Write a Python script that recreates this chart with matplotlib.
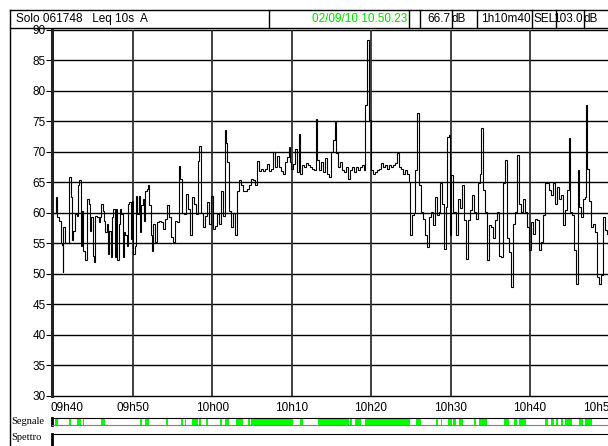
import matplotlib
matplotlib.use("Agg")
import matplotlib.pyplot as plt
from matplotlib.lines import Line2D
from matplotlib.transforms import ScaledTranslation

plt.rcParams['font.family'] = ['Liberation Sans', 'DejaVu Sans']

# Leq 10s A, minuti dopo le 09h40 (inizio di ogni gradino) e livello in dB
t_start = [
    0.02, 0.35, 0.52, 0.77, 0.94, 1.11, 1.19, 1.28, 1.53, 1.95,
    2.20, 2.37, 2.53, 2.79, 2.95, 3.12, 3.29, 3.46, 3.62, 3.79,
    3.96, 4.21, 4.46, 4.63, 4.80, 4.97, 5.13, 5.30, 5.47, 5.72,
    5.89, 6.06, 6.22, 6.39, 6.56, 6.73, 6.90, 7.06, 7.23, 7.40,
    7.57, 7.74, 7.90, 8.07, 8.24, 8.41, 8.57, 8.74, 8.91, 9.08,
    9.24, 9.41, 9.58, 9.75, 9.92, 10.08, 10.25, 10.42, 10.59, 10.76,
    10.92, 11.09, 11.26, 11.43, 11.59, 11.76, 11.93, 12.10, 12.27, 12.43,
    12.60, 12.85, 13.10, 13.36, 13.61, 13.86, 14.11, 14.36, 14.53, 14.78,
    15.03, 15.28, 15.54, 15.79, 15.96, 16.21, 16.46, 16.71, 16.96, 17.22,
    17.47, 17.72, 17.97, 18.22, 18.39, 18.64, 18.89, 19.14, 19.40, 19.65,
    19.90, 20.15, 20.40, 20.65, 20.91, 21.07, 21.32, 21.58, 21.74, 21.91,
    22.16, 22.42, 22.67, 22.92, 23.09, 23.34, 23.59, 23.93, 24.35, 24.60,
    24.85, 25.10, 25.35, 25.60, 25.86, 26.11, 26.44, 26.70, 26.95, 27.20,
    27.45, 27.70, 27.95, 28.20, 28.46, 28.62, 28.88, 29.13, 29.38, 29.63,
    29.80, 29.97, 30.22, 30.47, 30.64, 30.89,
    31.06, 31.31, 31.56, 31.81, 32.06, 32.32, 32.57, 32.82, 33.07, 33.24,
    33.49, 33.74, 33.99, 34.24, 34.41, 34.66, 34.92, 35.17, 35.42, 35.59,
    35.84, 36.09, 36.34, 36.59, 36.84, 37.10, 37.35, 37.60, 37.85, 38.10,
    38.35, 38.61, 38.86, 39.11, 39.28, 39.45, 39.70, 39.95, 40.20, 40.45,
    40.71, 40.96, 41.21, 41.46, 41.71, 41.96, 42.21, 42.47, 42.72, 42.97,
    43.22, 43.47, 43.73, 43.98, 44.23, 44.48, 44.73, 44.90, 45.15, 45.40,
    45.57, 45.74, 45.99, 46.24, 46.49, 46.75, 47.00, 47.25, 47.50, 47.75,
    48.00, 48.25, 48.50, 48.67, 48.92, 49.18, 49.43, 49.60, 49.76, 49.93,
    50.10, 50.27, 50.69, 50.94, 51.19, 51.44, 51.69, 51.95, 52.20, 52.45,
    52.70, 52.95, 53.20, 53.45, 53.71, 53.87, 54.13, 54.38, 54.63, 54.88,
    55.13, 55.38, 55.64, 55.89, 56.14, 56.39, 56.64, 56.89, 57.15, 57.40,
    57.65, 57.90, 58.15, 58.40, 58.66, 58.91, 59.16, 59.41, 59.66, 59.91,
    60.17, 60.42, 60.67, 60.92, 61.17, 61.43, 61.68, 61.93, 62.43, 62.68,
    62.94, 63.19, 63.44, 63.69, 63.94, 64.19, 64.45, 64.70, 64.87, 65.03,
    65.28, 65.54, 65.79, 66.04, 66.21, 66.38, 66.63, 66.88, 67.05, 67.21,
    67.47, 67.72, 67.97, 68.22, 68.39, 68.64, 68.89, 69.14, 69.39, 69.65,
]
t_end = 70.4

leq = [
    60.0, 62.5, 59.3, 58.7, 55.0, 54.7, 50.3, 57.6, 55.0, 65.8,
    62.5, 55.5, 57.0, 59.8, 59.5, 64.5, 65.3, 54.6, 60.3, 53.8,
    52.2, 62.3, 61.5, 57.0, 59.3, 53.0, 51.9, 59.5, 59.3, 58.5,
    59.3, 61.5, 60.3, 58.7, 56.8, 58.2, 53.3, 57.0, 52.7, 59.3,
    60.6, 52.7, 60.6, 52.2, 58.2, 60.6, 59.8, 52.7, 56.8, 56.3,
    54.6, 61.5, 61.7, 55.7, 62.0, 53.3, 54.6, 62.8, 59.8, 62.8,
    56.8, 61.2, 62.3, 58.7, 63.6, 63.9, 64.5, 61.2, 56.3, 53.8,
    58.2, 55.2, 58.5, 58.7, 58.5, 57.4, 59.0, 61.2, 59.3, 56.0,
    55.2, 58.7, 58.5, 67.7, 65.5, 60.0, 59.8, 63.1, 60.6, 56.3,
    62.5, 61.5, 59.8, 68.5, 71.0, 60.0, 57.6, 59.5, 61.7, 58.2,
    62.8, 57.4, 57.9, 59.8, 58.2, 63.6, 59.5, 73.5, 71.5, 68.3,
    60.3, 57.6, 60.0, 56.3, 63.6, 65.3, 64.5, 63.6, 63.9, 64.5,
    65.5, 65.3, 64.5, 68.5, 66.9, 67.2, 66.9, 67.2, 68.0, 66.9,
    67.2, 69.9, 67.5, 69.3, 67.5, 66.9, 66.4, 68.3, 69.1, 70.7,
    68.3, 67.2, 68.0, 70.4, 66.6, 72.9,
    66.4, 67.8, 67.5, 68.1, 67.8, 67.5, 67.2, 67.0, 75.4, 68.6,
    67.0, 68.3, 66.7, 68.9, 66.4, 65.9, 70.0, 71.9, 74.9, 69.7,
    67.5, 68.3, 67.0, 66.7, 67.5, 65.6, 67.0, 67.5, 66.7, 67.5,
    67.0, 67.5, 67.8, 67.0, 77.6, 88.3, 75.2, 67.0, 66.4, 66.7,
    67.0, 67.2, 68.1, 67.5, 67.8, 67.2, 67.8, 67.5, 67.8, 68.1,
    69.7, 67.5, 67.2, 66.4, 67.0, 66.4, 65.1, 56.3, 59.6, 59.9,
    67.0, 76.3, 64.5, 60.1, 59.0, 56.3, 54.4, 59.3, 60.1, 58.0,
    62.6, 59.6, 60.1, 64.8, 61.5, 54.1, 61.0, 72.4, 72.7, 56.3,
    66.1, 60.1, 56.3, 62.3, 60.7, 64.5, 58.8, 52.5, 58.8, 60.4,
    62.9, 60.1, 59.0, 64.8, 66.4, 73.8, 63.7, 60.1, 52.2, 58.0,
    57.7, 55.8, 58.8, 60.1, 53.0, 52.8, 64.8, 68.6, 55.8, 53.6,
    47.8, 58.2, 60.1, 69.4, 61.5, 60.1, 62.3, 60.1, 57.7, 53.9,
    58.5, 56.6, 59.0, 58.8, 53.9, 55.2, 59.6, 64.8, 63.7, 62.9,
    64.8, 61.5, 64.2, 62.3, 62.9, 58.0, 60.4, 63.7, 72.2, 60.1,
    59.6, 53.9, 48.4, 67.0, 61.0, 59.3, 62.3, 62.6, 77.6, 67.2,
    62.0, 57.7, 58.2, 56.9, 49.5, 48.4, 49.8, 59.3, 57.1, 56.6,
]

# tratti verdi della barra "Segnale" (minuti dopo le 09h40)
seg_start = [0.23, 1.99, 3.08, 3.79, 6.10, 10.92, 11.55, 14.28, 16.08, 16.59,
             17.56, 18.39, 19.32, 20.99, 21.62, 23.09, 24.55, 24.86, 31.06, 33.36,
             37.35, 37.98, 39.24, 45.66, 48.18, 48.77, 49.72, 50.35, 51.11, 52.96,
             53.63, 56.73, 57.99, 58.62, 61.89, 62.61, 63.24, 63.87, 64.41, 66.21,
             66.93]
seg_end = [0.64, 2.33, 3.59, 3.91, 6.52, 11.21, 12.09, 14.49, 16.37, 16.71,
           18.26, 18.60, 19.52, 21.33, 22.16, 23.85, 24.77, 30.14, 31.48, 37.26,
           37.64, 38.74, 44.90, 46.25, 48.39, 48.89, 50.15, 50.65, 51.54, 53.17,
           54.56, 57.40, 58.33, 59.50, 62.31, 63.03, 63.57, 64.20, 65.25, 66.64,
           67.85]

x_ticks = [0, 10, 20, 30, 40, 50, 60, 70]
x_labels = ['09h40', '09h50', '10h00', '10h10', '10h20', '10h30', '10h40', '10h50']
y_ticks = list(range(30, 91, 5))

header = ['Solo 061748   Leq 10s  A', '02/09/10 10.50.23', '66.7', 'dB',
          '1h10m40', 'SEL', '103.0', 'dB']

W, H = 608, 446
fig = plt.figure(figsize=(W / 100, H / 100), dpi=100)
fig.patch.set_facecolor('white')


def px_axes(x0, y0, x1, y1):
    return fig.add_axes([x0 / W, 1 - y1 / H, (x1 - x0) / W, (y1 - y0) / H])


def fline(xs, ys, **kw):
    fig.add_artist(Line2D([x / W for x in xs], [1 - y / H for y in ys],
                          transform=fig.transFigure, **kw))


XLIM = (-0.11, 70.95)
FS = 8.5

# grafico principale
ax = px_axes(52.3, 29.5, 617, 396)
ax.set_xlim(*XLIM)
ax.set_ylim(30, 90)
for y in y_ticks:
    ax.axhline(y, color='black', lw=1.0, zorder=1, clip_on=False)
for x in x_ticks[1:]:
    ax.axvline(x, color='#303030', lw=1.3, zorder=1)
ax.stairs(leq, t_start + [t_end], baseline=None, color='black', lw=0.8, zorder=3)

for s in ['top', 'right', 'bottom']:
    ax.spines[s].set_visible(False)
ax.spines['left'].set_linewidth(2.2)
ax.spines['left'].set_color('#222222')
ax.set_yticks(y_ticks)
ax.set_yticklabels([str(v) for v in y_ticks])
ax.tick_params(axis='y', length=4, width=0.8, pad=0.5, labelsize=FS)
ax.set_xticks(x_ticks)
ax.set_xticklabels(x_labels)
ax.tick_params(axis='x', length=0, pad=4, labelsize=FS)
lbls = ax.get_xticklabels()
lbls[0].set_ha('left')
lbls[0].set_transform(lbls[0].get_transform() + ScaledTranslation(-0.03, 0, fig.dpi_scale_trans))
lbls[-1].set_transform(lbls[-1].get_transform() + ScaledTranslation(-0.094, 0, fig.dpi_scale_trans))

# barra Segnale
axs = px_axes(52, 418.3, 617, 425)
axs.set_xlim(*XLIM)
axs.set_ylim(0, 1)
for a, b in zip(seg_start, seg_end):
    axs.axvspan(a, b, color='#00ff00', lw=0)
axs.set_xticks([])
axs.set_yticks([])
for s in axs.spines.values():
    s.set_linewidth(0.8)
axs.spines['left'].set_linewidth(2)
axs.spines['bottom'].set_color('#808080')

# barra Spettro
axp = px_axes(52, 433.5, 617, 452)
axp.set_xticks([])
axp.set_yticks([])
axp.spines['right'].set_visible(False)
axp.spines['bottom'].set_visible(False)
axp.spines['top'].set_linewidth(0.8)
axp.spines['left'].set_linewidth(2)

fig.text(11 / W, 1 - 421.5 / H, 'Segnale', family=['Liberation Serif'], size=7.5, va='center')
fig.text(11 / W, 1 - 438 / H, 'Spettro', family=['Liberation Serif'], size=7.5, va='center')

# cornice esterna e intestazione
fline([9.5, 9.5], [9.5, 446], color='black', lw=1)
fline([9.5, 620], [9.5, 9.5], color='black', lw=1)
fline([9.5, 620], [28, 28], color='black', lw=1)
for x in [269, 409, 420, 452, 477, 532, 556, 584]:
    fline([x, x], [9.5, 28], color='black', lw=1)

ty = 1 - 19 / H
fig.text(16 / W, ty, header[0], size=FS, va='center')
fig.text(407 / W, ty, header[1], size=FS, va='center', ha='right', color='#00dd00')
fig.text(451 / W, ty, header[2], size=FS, va='center', ha='right')
fig.text(452 / W, ty, header[3], size=FS, va='center')
fig.text(531 / W, ty, header[4], size=FS, va='center', ha='right')
fig.text(533 / W, ty, header[5], size=FS, va='center')
fig.text(583 / W, ty, header[6], size=FS, va='center', ha='right')
fig.text(584 / W, ty, header[7], size=FS, va='center')

fig.savefig('out.png', dpi=100)
